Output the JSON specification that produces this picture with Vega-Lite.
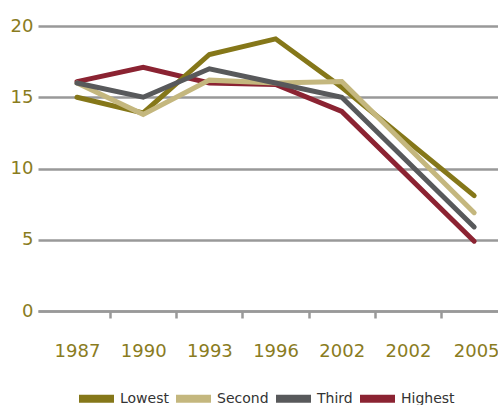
{
  "$schema": "https://vega.github.io/schema/vega-lite/v6.json",
  "autosize": "none",
  "width": 460,
  "height": 285,
  "padding": {"left": 38, "top": 26, "right": 0, "bottom": 94},
  "background": "white",
  "config": {
    "view": {"stroke": null},
    "font": "DejaVu Sans"
  },
  "data": {
    "values": [
      {"slot": 0, "group": "Highest", "value": 16.1},
      {"slot": 1, "group": "Highest", "value": 17.1},
      {"slot": 2, "group": "Highest", "value": 16.0},
      {"slot": 3, "group": "Highest", "value": 15.9},
      {"slot": 4, "group": "Highest", "value": 14.0},
      {"slot": 6, "group": "Highest", "value": 4.9},
      {"slot": 0, "group": "Lowest", "value": 15.0},
      {"slot": 1, "group": "Lowest", "value": 13.9},
      {"slot": 2, "group": "Lowest", "value": 18.0},
      {"slot": 3, "group": "Lowest", "value": 19.1},
      {"slot": 4, "group": "Lowest", "value": 15.7},
      {"slot": 6, "group": "Lowest", "value": 8.1},
      {"slot": 0, "group": "Second", "value": 16.0},
      {"slot": 1, "group": "Second", "value": 13.8},
      {"slot": 2, "group": "Second", "value": 16.2},
      {"slot": 3, "group": "Second", "value": 16.0},
      {"slot": 4, "group": "Second", "value": 16.1},
      {"slot": 6, "group": "Second", "value": 6.9},
      {"slot": 0, "group": "Third", "value": 16.0},
      {"slot": 1, "group": "Third", "value": 15.0},
      {"slot": 2, "group": "Third", "value": 17.0},
      {"slot": 3, "group": "Third", "value": 16.0},
      {"slot": 4, "group": "Third", "value": 15.0},
      {"slot": 6, "group": "Third", "value": 5.9}
    ]
  },
  "encoding": {
    "x": {
      "field": "slot",
      "type": "quantitative",
      "scale": {"domain": [-0.589, 6.36], "nice": false, "zero": false},
      "axis": {
        "title": null,
        "values": [0.5, 1.5, 2.5, 3.5, 4.5, 5.5, 6],
        "labelExpr": "['1987','1990','1993','1996','2002','2002','2005'][floor(datum.value)]",
        "labelOffset": {"condition": {"test": "datum.value == 6", "value": 2}, "value": -33.1},
        "tickOpacity": {"condition": {"test": "datum.value == 6", "value": 0}, "value": 1},
        "labelOverlap": false,
        "labelFlush": false,
        "labelBound": false,
        "labelFont": "DejaVu Sans",
        "labelFontSize": 18,
        "labelColor": "#8a7c1e",
        "labelPadding": 24,
        "labelBaseline": "top",
        "grid": false,
        "domainColor": "#999999",
        "domainWidth": 2.5,
        "tickColor": "#999999",
        "tickWidth": 2.5,
        "tickSize": 7
      }
    },
    "y": {
      "field": "value",
      "type": "quantitative",
      "scale": {"domain": [0, 20], "nice": false},
      "axis": {
        "title": null,
        "values": [0, 5, 10, 15, 20],
        "grid": true,
        "gridColor": "#999999",
        "gridWidth": 2.5,
        "domain": false,
        "ticks": false,
        "labelPadding": 5,
        "labelFont": "DejaVu Sans",
        "labelFontSize": 18,
        "labelColor": "#8a7c1e"
      }
    },
    "color": {
      "field": "group",
      "type": "nominal",
      "sort": ["Lowest", "Second", "Third", "Highest"],
      "scale": {
        "domain": ["Lowest", "Second", "Third", "Highest"],
        "range": ["#857719", "#c4b77e", "#58595b", "#8b2332"]
      },
      "legend": {
        "title": null,
        "orient": "none",
        "direction": "horizontal",
        "legendX": 37,
        "legendY": 351,
        "padding": 0,
        "symbolType": "stroke",
        "symbolSize": 1225,
        "symbolStrokeWidth": 8,
        "labelOffset": 2,
        "columnPadding": -9,
        "labelFont": "DejaVu Sans",
        "labelFontSize": 14,
        "labelColor": "#333333",
        "encoding": {"symbols": {"update": {"strokeCap": {"value": "round"}}}}
      }
    }
  },
  "layer": [
    {
      "transform": [{"filter": "datum.group == 'Highest'"}],
      "mark": {"type": "line", "strokeWidth": 5, "strokeCap": "round"}
    },
    {
      "transform": [{"filter": "datum.group == 'Lowest'"}],
      "mark": {"type": "line", "strokeWidth": 5, "strokeCap": "round"}
    },
    {
      "transform": [{"filter": "datum.group == 'Second'"}],
      "mark": {"type": "line", "strokeWidth": 5, "strokeCap": "round"}
    },
    {
      "transform": [{"filter": "datum.group == 'Third'"}],
      "mark": {"type": "line", "strokeWidth": 5, "strokeCap": "round"}
    }
  ]
}
